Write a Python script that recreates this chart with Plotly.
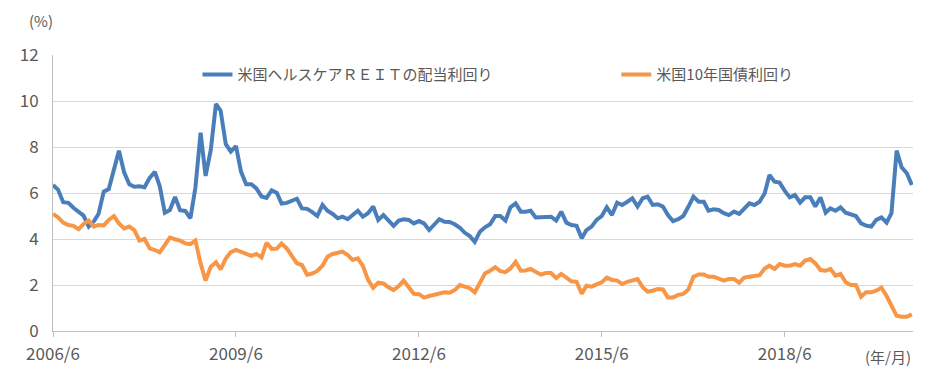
import pandas as pd
import plotly.graph_objects as go

# Monthly observations, 2006/6 .. 2020/7
months = pd.date_range("2006-06-01", periods=170, freq="MS")

reit_yield = [
    6.35, 6.15, 5.6, 5.57, 5.36, 5.17, 5.02, 4.54, 4.77, 5.1,
    6.06, 6.17, 7.0, 7.84, 6.9, 6.38, 6.27, 6.29, 6.25, 6.66,
    6.92, 6.3, 5.14, 5.26, 5.83, 5.25, 5.22, 4.9, 6.24, 8.62,
    6.74, 7.87, 9.87, 9.58,
    8.12, 7.8, 8.04, 6.93, 6.38, 6.38, 6.2, 5.85, 5.79, 6.12,
    6.0, 5.54, 5.57, 5.67, 5.75, 5.33, 5.31, 5.17, 5.0, 5.48,
    5.23, 5.09, 4.9, 4.97, 4.86, 5.04, 5.23, 4.97, 5.12, 5.41,
    4.83, 5.04, 4.78, 4.57, 4.8,
    4.86, 4.83, 4.68, 4.78, 4.68, 4.39, 4.61, 4.86, 4.75, 4.74,
    4.64, 4.49, 4.28, 4.13, 3.87, 4.32, 4.51, 4.64, 5.0, 5.0,
    4.8, 5.38, 5.55, 5.19, 5.19, 5.23, 4.94, 4.94, 4.94, 4.97,
    4.8, 5.19, 4.71, 4.61, 4.57, 4.03,
    4.39, 4.54, 4.83, 5.0, 5.38, 5.04, 5.58, 5.48, 5.62, 5.77,
    5.41, 5.77, 5.84, 5.48, 5.51, 5.41, 5.04, 4.78, 4.86, 5.0,
    5.41, 5.84, 5.62, 5.62, 5.23, 5.29, 5.26, 5.12, 5.04, 5.19,
    5.09, 5.33, 5.55, 5.48,
    5.62, 5.99, 6.78, 6.49, 6.45, 6.09, 5.81, 5.91, 5.58, 5.81,
    5.81, 5.41, 5.81, 5.14, 5.33, 5.23, 5.38, 5.14, 5.07, 5.0,
    4.68, 4.58, 4.54, 4.83, 4.94, 4.71, 5.12, 7.84, 7.12, 6.86,
    6.35,
]

ust10_yield = [
    5.09, 4.94, 4.71, 4.61, 4.57, 4.43, 4.65, 4.8, 4.54, 4.61,
    4.59, 4.83, 5.0, 4.68, 4.46, 4.54, 4.39, 3.93, 4.0, 3.59,
    3.52, 3.42, 3.74, 4.06, 3.99, 3.93, 3.81, 3.78, 3.93, 2.94,
    2.19, 2.8, 2.99, 2.68,
    3.15, 3.43, 3.53, 3.45, 3.37, 3.27, 3.35, 3.2, 3.83, 3.57,
    3.58, 3.8, 3.59, 3.28, 2.94, 2.87, 2.45, 2.5, 2.61, 2.84,
    3.23, 3.35, 3.41, 3.45, 3.3, 3.09, 3.16, 2.83, 2.22, 1.88,
    2.1, 2.07, 1.9, 1.78, 1.95,
    2.19, 1.9, 1.62, 1.6, 1.45, 1.52, 1.58, 1.64, 1.68, 1.66,
    1.78, 2.0, 1.92, 1.86, 1.68, 2.1, 2.5, 2.62, 2.77, 2.6,
    2.56, 2.72, 3.01, 2.62, 2.63, 2.7, 2.6, 2.45, 2.52, 2.52,
    2.3, 2.48, 2.32, 2.16, 2.14, 1.62,
    1.97, 1.93, 2.03, 2.12, 2.32, 2.22, 2.19, 2.04, 2.14, 2.19,
    2.26, 1.9, 1.71, 1.75, 1.83, 1.81, 1.46, 1.46, 1.57, 1.61,
    1.81, 2.36, 2.46, 2.46, 2.36, 2.36, 2.29, 2.19, 2.26, 2.26,
    2.1, 2.32, 2.36, 2.41,
    2.43, 2.72, 2.84, 2.7, 2.91, 2.84, 2.84, 2.91, 2.84, 3.06,
    3.13, 2.94, 2.65, 2.62, 2.7, 2.41, 2.48, 2.12, 2.0, 2.0,
    1.49, 1.68, 1.68, 1.75, 1.88, 1.52, 1.1, 0.66, 0.62, 0.62,
    0.72,
]

series_names = ["米国ヘルスケアＲＥＩＴの配当利回り", "米国10年国債利回り"]
tick_dates = ["2006-06-01", "2009-06-01", "2012-06-01", "2015-06-01", "2018-06-01"]
tick_labels = ["2006/6", "2009/6", "2012/6", "2015/6", "2018/6"]
y_ticks = [0, 2, 4, 6, 8, 10, 12]

FONT = "Noto Sans CJK JP"
GRAY = "#595959"

fig = go.Figure()
fig.add_trace(go.Scatter(x=months, y=reit_yield, mode="lines", name=series_names[0],
                         line=dict(color="#4A7EBB", width=4), legend="legend"))
fig.add_trace(go.Scatter(x=months, y=ust10_yield, mode="lines", name=series_names[1],
                         line=dict(color="#F79646", width=4), legend="legend2"))

legend_common = dict(orientation="h", yanchor="middle", xanchor="left",
                     bgcolor="rgba(0,0,0,0)", font=dict(size=15, color=GRAY, family=FONT))

# the page body adds an 8px offset, so the figure is 8px smaller than the window
fig.update_layout(
    width=931, height=369,
    margin=dict(l=45, r=26, t=47, b=46, autoexpand=False),
    paper_bgcolor="white", plot_bgcolor="white",
    font=dict(family=FONT, color=GRAY, size=15),
    showlegend=True,
    legend=dict(x=0.168, y=0.928, **legend_common),
    legend2=dict(x=0.655, y=0.928, **legend_common),
    xaxis=dict(range=["2006-06-01", "2020-07-08"], tickvals=tick_dates, ticktext=tick_labels,
               showgrid=False, showline=True, linecolor="#bfbfbf", linewidth=1,
               ticks="outside", ticklen=5, tickcolor="#bfbfbf", ticklabelstandoff=3,
               tickfont=dict(size=17, color=GRAY, family=FONT), zeroline=False,
               automargin=False),
    yaxis=dict(range=[0, 12], tickvals=y_ticks, showgrid=True, gridcolor="#d9d9d9", gridwidth=1,
               showline=True, linecolor="#bfbfbf", linewidth=1, zeroline=False,
               ticks="", ticklabelstandoff=10, tickfont=dict(size=17, color=GRAY, family=FONT),
               automargin=False),
    annotations=[
        dict(text="(%)", x=-0.03, y=1.126, xref="paper", yref="paper", xanchor="left", yanchor="middle",
             showarrow=False, font=dict(size=15, color=GRAY, family=FONT)),
        dict(text="(年/月)", x=1.0, y=-0.094, xref="paper", yref="paper", xanchor="right", yanchor="middle",
             showarrow=False, font=dict(size=15, color=GRAY, family=FONT)),
    ],
)

fig.write_html("out.html")
